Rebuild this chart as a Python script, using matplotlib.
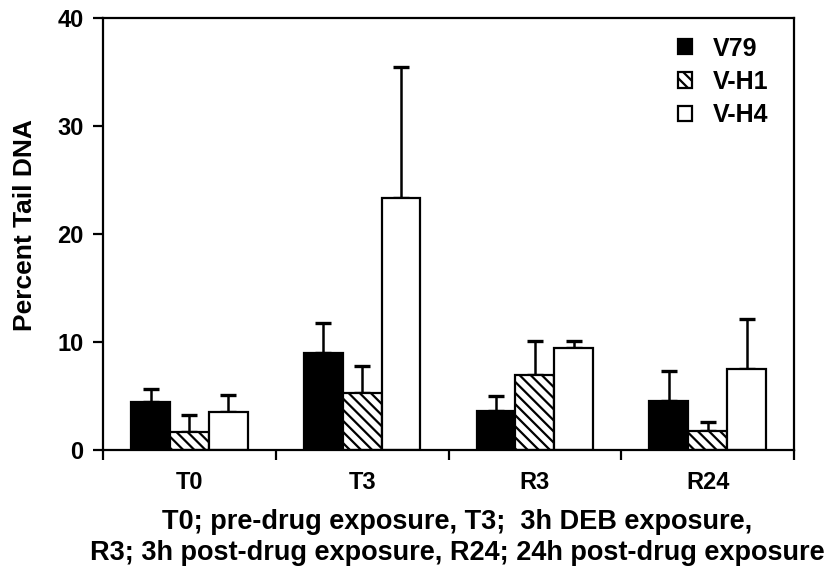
import matplotlib
matplotlib.use("Agg")
import matplotlib.pyplot as plt
import numpy as np

plt.rcParams['font.family'] = ['Liberation Sans', 'DejaVu Sans']
plt.rcParams['font.weight'] = 'bold'
plt.rcParams['hatch.linewidth'] = 1.6

categories = ["T0", "T3", "R3", "R24"]
series = ["V79", "V-H1", "V-H4"]
v79 = [4.4, 9.0, 3.6, 4.5]
v79_err = [1.25, 2.8, 1.4, 2.8]
vh1 = [1.7, 5.25, 6.95, 1.75]
vh1_err = [1.55, 2.5, 3.15, 0.8]
vh4 = [3.5, 23.3, 9.4, 7.5]
vh4_err = [1.55, 12.2, 0.7, 4.6]
yticks = [0, 10, 20, 30, 40]
caption_lines = ["T0; pre-drug exposure, T3;  3h DEB exposure,",
                 "R3; 3h post-drug exposure, R24; 24h post-drug exposure"]

fig = plt.figure(figsize=(8.33, 5.77), dpi=100)
ax = fig.add_axes([0.1237, 0.2201, 0.8295, 0.7487])

x = np.arange(len(categories))
w = 0.225
styles = [
    dict(color="black", hatch=None),
    dict(color="white", hatch="\\\\\\"),
    dict(color="white", hatch=None),
]
values = [v79, vh1, vh4]
errors = [v79_err, vh1_err, vh4_err]
for i, (name, vals, errs, st) in enumerate(zip(series, values, errors, styles)):
    pos = x + (i - 1) * w
    ax.bar(pos, vals, width=w, facecolor=st["color"], edgecolor="black",
           hatch=st["hatch"], linewidth=1.6, label=name, zorder=2)
    ax.errorbar(pos, vals, yerr=[np.zeros(len(errs)), errs], fmt="none",
                ecolor="black", elinewidth=1.8, capsize=6, capthick=2.4, zorder=1)

ax.set_xlim(-0.5, len(categories) - 0.5)
ax.set_ylim(0, 40)
ax.set_yticks(yticks)
ax.set_yticklabels([str(t) for t in yticks], fontsize=17, fontweight="bold")
ax.set_xticks(np.arange(len(categories) + 1) - 0.5)
ax.set_xticklabels([])
ax.set_xticks(x, minor=True)
ax.set_xticklabels(categories, minor=True, fontsize=17, fontweight="bold")
ax.tick_params(axis="x", which="minor", length=0, pad=15)
ax.tick_params(axis="x", which="major", length=7, width=1.6, direction="out")
ax.tick_params(axis="y", length=7, width=1.6, direction="out", pad=7)
for sp in ax.spines.values():
    sp.set_linewidth(1.6)

fig.text(25 / 833, 1 - 225 / 577, "Percent Tail DNA", rotation=90,
         ha="center", va="center", fontsize=19, fontweight="bold")
fig.text(457 / 833, 1 - 522 / 577, caption_lines[0], ha="center", va="center",
         fontsize=19.5, fontweight="bold")
fig.text(457 / 833, 1 - 553 / 577, caption_lines[1], ha="center", va="center",
         fontsize=19.5, fontweight="bold")

ax.legend(loc="upper left", bbox_to_anchor=(0.832, 0.957), frameon=False,
          prop={"weight": "bold", "size": 18}, handlelength=0.56, handleheight=0.56,
          handletextpad=0.84, labelspacing=0.37, borderpad=0, borderaxespad=0)

fig.savefig("out.png", dpi=100)
